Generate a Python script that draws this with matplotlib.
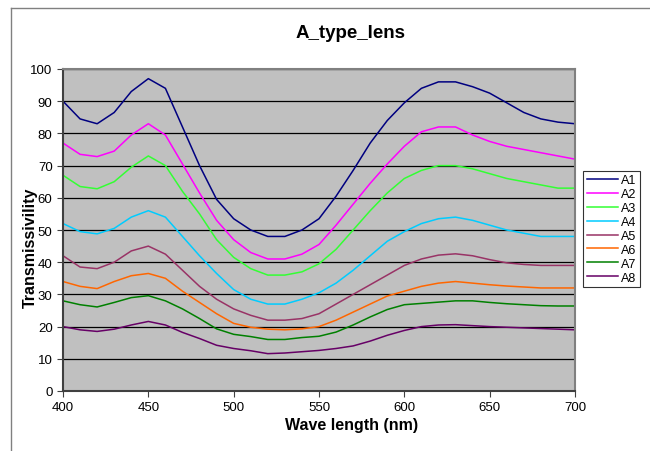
import matplotlib
matplotlib.use("Agg")
import matplotlib.pyplot as plt
from matplotlib.lines import Line2D

plt.rcParams['font.family'] = ['Liberation Sans', 'DejaVu Sans']

# wavelength (nm), one reading every 10 nm
wavelength = list(range(400, 701, 10))

A1 = [90, 84.5, 83, 86.5, 93, 97, 94, 82, 70, 59.5, 53.5, 50, 48, 48, 50, 53.5,
      60.5, 68.5, 77, 84, 89.5, 94, 96, 96, 94.5, 92.5, 89.5, 86.5, 84.5, 83.5, 83]
A2 = [77, 73.5, 72.8, 74.5, 79.5, 83, 79.5, 70.5, 61.5, 53, 47, 43, 41, 41, 42.5, 45.5,
      51.5, 58, 64.5, 70.5, 76, 80.5, 82, 82, 79.5, 77.5, 76, 75, 74, 73, 72]
A3 = [67, 63.5, 62.8, 65, 69.5, 73, 70, 62, 55, 47, 41.5, 38, 36, 36, 37, 39.5,
      44, 50, 56, 61.5, 66, 68.5, 70, 70, 69, 67.5, 66, 65, 64, 63, 63]
A4 = [52, 49.5, 48.8, 50.5, 54, 56, 54, 48, 42, 36.5, 31.5, 28.5, 27, 27, 28.5, 30.5,
      33.5, 37.5, 42, 46.5, 49.5, 52, 53.5, 54, 53, 51.5, 50, 49, 48, 48, 48]
A5 = [42, 38.5, 38, 40, 43.5, 45, 42.5, 37.5, 32.5, 28.5, 25.5, 23.5, 22, 22, 22.5, 24,
      27, 30, 33, 36, 39, 41, 42.2, 42.6, 42, 40.8, 39.8, 39.3, 39, 39, 39]
A6 = [34, 32.5, 31.8, 34, 35.8, 36.5, 35, 31, 27.5, 24, 21, 19.8, 19.2, 19, 19.3, 20,
      22, 24.5, 27, 29.5, 31, 32.5, 33.5, 34, 33.5, 33, 32.6, 32.3, 32, 32, 32]
A7 = [28, 26.8, 26.1, 27.5, 29, 29.6, 28, 25.5, 22.5, 19.3, 17.6, 16.9, 16, 16, 16.6, 17,
      18.3, 20.5, 23, 25.3, 26.8, 27.2, 27.6, 28, 28, 27.5, 27.1, 26.8, 26.5, 26.4, 26.4]
A8 = [20, 19, 18.5, 19.2, 20.5, 21.6, 20.5, 18.2, 16.3, 14.2, 13.2, 12.5, 11.6, 11.8, 12.2, 12.6,
      13.2, 14, 15.5, 17.3, 18.8, 20, 20.5, 20.6, 20.3, 20, 19.8, 19.6, 19.4, 19.2, 19]

series = [A1, A2, A3, A4, A5, A6, A7, A8]
names = ['A1', 'A2', 'A3', 'A4', 'A5', 'A6', 'A7', 'A8']
colors = ['#000080', '#FF00FF', '#33FF33', '#00CCFF', '#993366', '#FF6600', '#008000', '#660066']

fig = plt.figure(figsize=(6.5, 4.52), dpi=100)
ax = fig.add_axes([63 / 650, 1 - 392 / 452, 512 / 650, 322 / 452])
ax.set_facecolor('#C0C0C0')

for y, name, c in zip(series, names, colors):
    ax.plot(wavelength, y, color=c, lw=1.1, label=name)

ax.set_xlim(400, 700)
ax.set_ylim(0, 100)
ax.set_xticks(range(400, 701, 50))
ax.set_yticks(range(0, 101, 10))
ax.yaxis.grid(True, color='black', lw=0.9)
ax.set_axisbelow(True)
ax.tick_params(labelsize=9.5, direction='out', length=4, color='#404040')

for s in ['top', 'right']:
    ax.spines[s].set_color('#808080')
    ax.spines[s].set_linewidth(1.5)
for s in ['left', 'bottom']:
    ax.spines[s].set_color('#404040')
    ax.spines[s].set_linewidth(1.5)

# title and x label are centred on the whole chart area, not the plot
fig.text(351 / 650, 1 - 34 / 452, 'A_type_lens', fontsize=13.5, fontweight='bold',
         ha='center', va='center')
fig.text(352 / 650, 1 - 426 / 452, 'Wave length (nm)', fontsize=11.5, fontweight='bold',
         ha='center', va='center')
ax.set_ylabel('Transmissivility', fontsize=11.5, fontweight='bold')
ax.yaxis.set_label_coords(-0.05, 0.447)

leg = ax.legend(loc='center left', bbox_to_anchor=(583 / 650, 1 - 230 / 452),
                bbox_transform=fig.transFigure, borderaxespad=0, fontsize=9, frameon=True,
                fancybox=False, edgecolor='black', handlelength=2.5,
                handletextpad=0.2, labelspacing=0.15, borderpad=0.3)
leg.get_frame().set_linewidth(0.8)

# chart area border (partially visible)
fig.add_artist(Line2D([11 / 650, 11 / 650], [0, 1 - 9 / 452], color='#808080', lw=1))
fig.add_artist(Line2D([11 / 650, 1], [1 - 9 / 452, 1 - 9 / 452], color='#808080', lw=1))

fig.savefig('out.png', dpi=100)
